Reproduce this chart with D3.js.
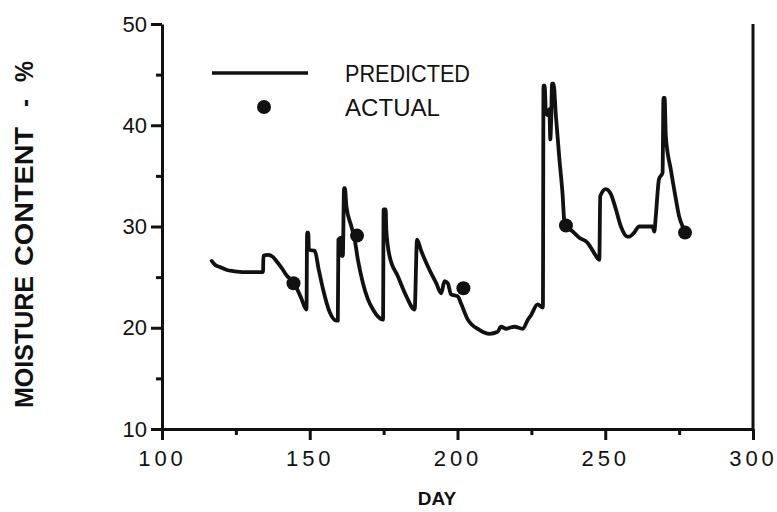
<!DOCTYPE html>
<html>
<head>
<meta charset="utf-8">
<script src="https://cdn.jsdelivr.net/npm/d3@7"></script>
<style>
  body { margin: 0; background: #fff; }
  text { font-family: "Liberation Sans", Arial, Helvetica, sans-serif; fill: #111; }
</style>
</head>
<body>
<svg id="chart"></svg>
<script>
const predDay = [116.8, 118, 119.6, 122, 124.1, 128, 134.2, 134.3, 135.9, 137.5, 138.7, 140.5, 142.1, 144.9, 147, 148.9,
  149.1, 149.5, 149.7, 151.7, 153, 154.5, 156.8, 159, 159.5, 159.7, 160.6, 160.8, 161.2, 161.6, 161.9, 162.4,
  164.1, 165.2, 166.3, 168.0, 169.7, 171.4, 173.1, 174.8, 175.0, 175.7, 175.9, 177.0, 179.8, 182.7, 185.5,
  186.3, 187.7, 189.9, 192.8, 194.5, 195.6, 196.7, 197.8, 200.1, 201.2, 203.5, 207.4, 210.8, 213.6, 214.7,
  216.5, 217.6, 219.3, 222.1, 223.8, 225.0, 225.5, 227.1, 228.9, 229.1, 229.5, 229.9, 230.5, 231.1, 231.4,
  231.7, 232.0, 232.5, 233.3, 234.5, 235.6, 236.1, 236.7, 239, 241.2, 244, 246, 248, 248.3, 250.2, 251.9,
  253.6, 255.3, 257.5, 258.1, 259.8, 261.5, 266, 266.6, 267.1, 268.2, 269.4, 269.7, 270.1, 270.5, 272.2,
  273.9, 275, 276.2];
const predVal = [26.6, 26.2, 26.0, 25.7, 25.6, 25.5, 25.5, 27.1, 27.2, 27.0, 26.6, 25.9, 25.2, 24.3, 23.0, 21.8,
  29.4, 29.4, 27.7, 27.6, 25.8, 23.8, 21.5, 20.7, 20.7, 28.7, 28.9, 27.1, 27.1, 33.8, 33.8, 32.0,
  30.0, 28.7, 26.7, 24.4, 22.8, 21.8, 21.1, 20.8, 31.7, 31.7, 29.7, 27.1, 25.1, 23.1, 21.8,
  28.7, 27.6, 26.1, 24.4, 23.4, 24.6, 24.4, 23.3, 23.1, 22.4, 20.8, 19.8, 19.4, 19.6, 20.1,
  19.9, 20.0, 20.1, 19.9, 20.8, 21.3, 21.6, 22.3, 22.0, 43.9, 43.9, 41.3, 41.0, 41.6, 38.6,
  40.5, 44.1, 44.1, 40.9, 36.6, 33.0, 30.7, 30.2, 29.5, 28.9, 28.4, 27.5, 26.7, 33.0, 33.7, 33.2,
  31.7, 30.0, 29.0, 29.0, 29.4, 30.0, 30.0, 29.5, 31.0, 34.7, 35.3, 42.7, 42.7, 38.9, 35.6,
  32.7, 31.0, 30.0];
const actualDay = [144.5, 166, 202, 236.7, 277];
const actualVal = [24.4, 29.1, 23.9, 30.1, 29.4];

const xMajor = [100, 150, 200, 250, 300],
      xMinor = [125, 175, 225, 275],
      yMajor = [10, 20, 30, 40, 50],
      yMinor = [15, 25, 35, 45];

let width  = 777,
    height = 512;
let margin = {top: 24, right: 24, bottom: 83, left: 162};

let svg = d3.select('#chart')
    .attr('width', width)
    .attr('height', height);

let xScale = d3.scaleLinear()
      .domain([100, 300])
      .range([margin.left, width - margin.right]),
    yScale = d3.scaleLinear()
      .domain([10, 50])
      .range([height - margin.bottom, margin.top]);

// minor ticks first, then the major axes on top
svg.append('g')
    .attr('transform', `translate(0, ${height - margin.bottom})`)
    .call(d3.axisBottom(xScale).tickValues(xMinor).tickSize(6).tickFormat(''))
    .call(g => g.select('.domain').remove());
svg.append('g')
    .attr('transform', `translate(${margin.left}, 0)`)
    .call(d3.axisLeft(yScale).tickValues(yMinor).tickSize(6).tickFormat(''))
    .call(g => g.select('.domain').remove());

let xAxis = svg.append('g')
    .attr('transform', `translate(0, ${height - margin.bottom})`)
    .call(d3.axisBottom(xScale).tickValues(xMajor).tickSize(11).tickSizeOuter(0).tickPadding(10));
let yAxis = svg.append('g')
    .attr('transform', `translate(${margin.left}, 0)`)
    .call(d3.axisLeft(yScale).tickValues(yMajor).tickSize(11).tickSizeOuter(0).tickPadding(4));

svg.selectAll('.tick line').attr('stroke', '#111').attr('stroke-width', 3);
svg.selectAll('.domain').attr('stroke', '#111').attr('stroke-width', 3);
xAxis.selectAll('text')
    .attr('font-size', 22)
    .attr('letter-spacing', 4)
    .attr('font-family', '"Liberation Sans", Arial, sans-serif');
yAxis.selectAll('text')
    .attr('font-size', 22)
    .attr('font-family', '"Liberation Sans", Arial, sans-serif');

// right-hand border
svg.append('line')
    .attr('x1', xScale(300)).attr('x2', xScale(300))
    .attr('y1', yScale(10)).attr('y2', yScale(50))
    .attr('stroke', '#111')
    .attr('stroke-width', 3);

// predicted line
let pred = predDay.map((d, i) => [d, predVal[i]]);
svg.append('path')
    .datum(pred)
    .attr('fill', 'none')
    .attr('stroke', '#111')
    .attr('stroke-width', 3.8)
    .attr('stroke-linejoin', 'round')
    .attr('stroke-linecap', 'round')
    .attr('d', d3.line().curve(d3.curveMonotoneX).x(d => xScale(d[0])).y(d => yScale(d[1])));

// actual points
svg.selectAll('circle.actual')
  .data(actualDay.map((d, i) => [d, actualVal[i]]))
  .enter()
  .append('circle')
    .attr('class', 'actual')
    .attr('cx', d => xScale(d[0]))
    .attr('cy', d => yScale(d[1]))
    .attr('r', 7)
    .attr('fill', '#111');

// legend
svg.append('line')
    .attr('x1', 212).attr('x2', 308)
    .attr('y1', 73).attr('y2', 73)
    .attr('stroke', '#111')
    .attr('stroke-width', 3.5);
svg.append('circle')
    .attr('cx', 264).attr('cy', 107)
    .attr('r', 7)
    .attr('fill', '#111');
svg.append('text')
    .attr('x', 345).attr('y', 82)
    .attr('font-size', 23)
    .attr('textLength', 125)
    .attr('lengthAdjust', 'spacingAndGlyphs')
    .text('PREDICTED');
svg.append('text')
    .attr('x', 345).attr('y', 116)
    .attr('font-size', 23)
    .attr('textLength', 95)
    .attr('lengthAdjust', 'spacingAndGlyphs')
    .text('ACTUAL');

// axis titles
svg.append('text')
    .attr('x', 437)
    .attr('y', 505)
    .attr('font-size', 19)
    .attr('font-weight', 'bold')
    .style('text-anchor', 'middle')
    .text('DAY');

// y title, word by word (start and length along the rotated axis)
const yTitleWords = ['MOISTURE', 'CONTENT', '-', '%'],
      yTitleStart = [408, 266, 107, 82],
      yTitleLen   = [132, 139, 8, 21];
svg.selectAll('text.ytitle')
  .data(yTitleWords)
  .enter()
  .append('text')
    .attr('class', 'ytitle')
    .attr('transform', 'rotate(-90)')
    .attr('x', (d, i) => -yTitleStart[i])
    .attr('y', 33)
    .attr('font-size', 25)
    .attr('font-weight', 'bold')
    .attr('textLength', (d, i) => yTitleLen[i])
    .attr('lengthAdjust', 'spacingAndGlyphs')
    .text(d => d);
</script>
</body>
</html>
